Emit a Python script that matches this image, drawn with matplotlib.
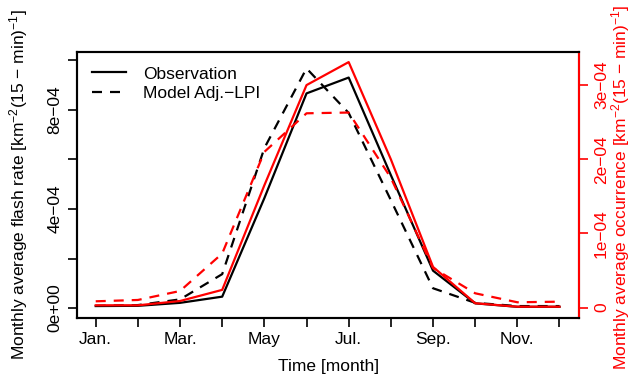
import numpy as np
import matplotlib
matplotlib.use('Agg')
import matplotlib.pyplot as plt

# Data
months = np.arange(1, 13)
month_labels = ['Jan.', '', 'Mar.', '', 'May', '', 'Jul.', '', 'Sep.', '', 'Nov.', '']

# flash rate (left axis), km^-2 (15-min)^-1
obs_flash = [0.08e-4, 0.09e-4, 0.21e-4, 0.46e-4, 4.44e-4, 8.67e-4,
             9.31e-4, 5.37e-4, 1.51e-4, 0.19e-4, 0.05e-4, 0.05e-4]
model_flash = [0.09e-4, 0.12e-4, 0.35e-4, 1.37e-4, 6.46e-4, 9.68e-4,
               7.88e-4, 4.36e-4, 0.80e-4, 0.21e-4, 0.08e-4, 0.08e-4]

# occurrence (right axis)
obs_occ = [0.032e-4, 0.032e-4, 0.09e-4, 0.24e-4, 1.65e-4, 3.00e-4,
           3.31e-4, 2.00e-4, 0.55e-4, 0.06e-4, 0.013e-4, 0.013e-4]
model_occ = [0.086e-4, 0.104e-4, 0.225e-4, 0.73e-4, 2.10e-4, 2.62e-4,
             2.63e-4, 1.75e-4, 0.535e-4, 0.194e-4, 0.073e-4, 0.081e-4]

left_ticks = [0, 2e-4, 4e-4, 6e-4, 8e-4, 1e-3]
left_labels = ['0e+00', '', '4e\u221204', '', '8e\u221204', '']
right_ticks = [0, 1e-4, 2e-4, 3e-4]
right_labels = ['0', '1e\u221204', '2e\u221204', '3e\u221204']

plt.rcParams['font.family'] = ['Liberation Sans', 'DejaVu Sans']
plt.rcParams['mathtext.fontset'] = 'custom'
plt.rcParams['mathtext.rm'] = 'Liberation Sans'
plt.rcParams['mathtext.it'] = 'Liberation Sans:italic'
fs = 12.5

W, H = 635, 377
fig = plt.figure(figsize=(W / 100, H / 100), dpi=100)
ax = fig.add_axes([77.3 / W, 1 - 317.7 / H, 502 / W, 265.4 / H])

lw = 1.6
dash = (4.5, 3.6)
ax.plot(months, obs_flash, color='black', lw=lw, label='Observation')
ax.plot(months, model_flash, color='black', lw=lw, dashes=dash, label='Model Adj.\u2212LPI')
ax.set_xlim(0.563, 12.47)
ax.set_ylim(-3.9e-5, 1.033e-3)

ax.set_xticks(months)
ax.set_xticklabels(month_labels, fontsize=fs)
ax.set_yticks(left_ticks)
ax.set_yticklabels(left_labels, fontsize=fs, rotation=90, va='center')
ax.tick_params(axis='both', direction='out', length=6.5, width=1.2, pad=4)
for s in ax.spines.values():
    s.set_linewidth(1.5)

ax2 = ax.twinx()
ax2.plot(months, obs_occ, color='red', lw=lw)
ax2.plot(months, model_occ, color='red', lw=lw, dashes=dash)
ax2.set_ylim(-1.35e-5, 3.442e-4)
ax2.set_yticks(right_ticks)
ax2.set_yticklabels(right_labels, fontsize=fs, rotation=90, va='center', color='red')
ax2.tick_params(axis='y', direction='out', length=6.5, width=1.2, pad=4, colors='red')
for s in ax2.spines.values():
    s.set_linewidth(1.5)
ax2.spines['right'].set_color('red')

leg = ax.legend(loc='upper left', bbox_to_anchor=(0.0287, 0.947), frameon=False,
                fontsize=fs, handlelength=2.0, handletextpad=0.95,
                labelspacing=0.25, borderpad=0, borderaxespad=0)

fig.text(19 / W, 1 - 185 / H,
         'Monthly average flash rate [km$^{-2}$(15 \u2212 min)$^{-1}$]',
         rotation=90, ha='center', va='center', fontsize=fs)
fig.text(621 / W, 1 - 187 / H,
         'Monthly average occurrence [km$^{-2}$(15 \u2212 min)$^{-1}$]',
         rotation=90, ha='center', va='center', fontsize=fs, color='red')
fig.text(328.3 / W, 1 - 367 / H, 'Time [month]', ha='center', va='center', fontsize=fs)

fig.savefig('out.png', dpi=100)
